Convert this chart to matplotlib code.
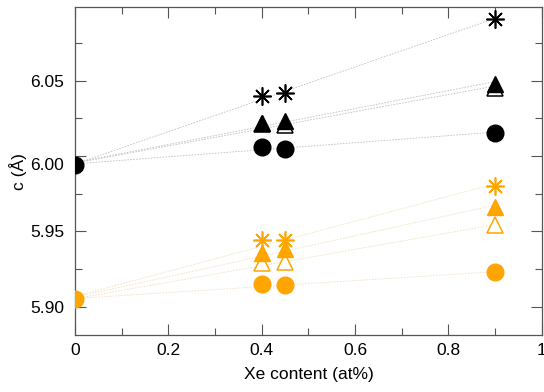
import numpy as np
import matplotlib.pyplot as plt
import matplotlib.transforms as mtransforms
from matplotlib.ticker import MultipleLocator

plt.rcParams['font.family'] = ['Liberation Sans', 'DejaVu Sans']

xe = [0.0, 0.4, 0.45, 0.9]

# black series (c at 0 shared)
blk_star = [5.994, 6.040, 6.042, 6.091]
blk_tri = [5.994, 6.022, 6.0235, 6.048]
blk_tri_open = [5.994, 6.021, 6.0205, 6.0455]
blk_circ = [5.994, 6.006, 6.005, 6.0153]

# orange series
org_star = [5.9047, 5.944, 5.944, 5.980]
org_tri = [5.9047, 5.9353, 5.938, 5.966]
org_tri_open = [5.9047, 5.9287, 5.9293, 5.954]
org_circ = [5.9047, 5.9147, 5.914, 5.9227]

ORANGE = '#ffa500'


def fit_line(ax, x, y, color):
    p = np.polyfit(x, y, 1)
    xx = np.array([0.0, max(x)])
    ax.plot(xx, np.polyval(p, xx), ls=(0, (2, 1.5)), lw=0.6, color=color, zorder=1)


fig = plt.figure(figsize=(5.44, 3.92), dpi=100)
ax = fig.add_axes([0.138, 0.145, 0.858, 0.837])

for ys, lcol in [(blk_star, '#c0c0c0'), (blk_tri, '#c0c0c0'),
                 (blk_tri_open, '#c0c0c0'), (blk_circ, '#c0c0c0'),
                 (org_star, '#f0e0c0'), (org_tri, '#f0e0c0'),
                 (org_tri_open, '#f0e0c0'), (org_circ, '#f0e0c0')]:
    fit_line(ax, xe, ys, lcol)

for c, star, tri, trio, circ in [('k', blk_star, blk_tri, blk_tri_open, blk_circ),
                                 (ORANGE, org_star, org_tri, org_tri_open, org_circ)]:
    ax.plot(xe[1:], trio[1:], ls='none', marker='^', ms=11, mfc='white', mec=c, mew=1.1, zorder=3)
    ax.plot(xe[1:], tri[1:], ls='none', marker='^', ms=11, mfc=c, mec=c, zorder=4)
    ax.plot(xe[1:], star[1:], ls='none', marker=(8, 2, 0), ms=13, mec=c, mew=1.2, zorder=5)
    ax.plot(xe, circ, ls='none', marker='o', ms=12, mfc=c, mec=c, zorder=6)

ax.set_xlim(0, 1)
ax.set_ylim(5.881, 6.099)
ax.xaxis.set_minor_locator(MultipleLocator(0.1))
ax.yaxis.set_minor_locator(MultipleLocator(0.025))
ax.set_xticks([0, 0.2, 0.4, 0.6, 0.8, 1.0])
ax.set_xticklabels(['0', '0.2', '0.4', '0.6', '0.8', '1'])
ax.set_yticks([5.90, 5.95, 6.00, 6.05])
ax.set_yticklabels(['5.90', '5.95', '6.00', '6.05'])

ax.tick_params(which='both', direction='in', top=True, right=True, colors='#555555',
               labelcolor='black', labelsize=12.5, width=0.8)
ax.tick_params(which='major', length=8)
ax.tick_params(which='minor', length=5)
ax.tick_params(axis='y', which='major', pad=8)
ax.tick_params(axis='x', which='major', pad=6)
for s in ax.spines.values():
    s.set_color('#555555')
    s.set_linewidth(0.9)

# the 6.00 label sits a little below its tick in the original
lbl = ax.get_yticklabels()[2]
lbl.set_transform(lbl.get_transform() + mtransforms.ScaledTranslation(0, -8 / 100, fig.dpi_scale_trans))

ax.set_xlabel('Xe content (at%)', fontsize=12.5, labelpad=6)
ax.set_ylabel('c (Å)', fontsize=12.5, labelpad=2)

fig.savefig('out.png', dpi=100)
